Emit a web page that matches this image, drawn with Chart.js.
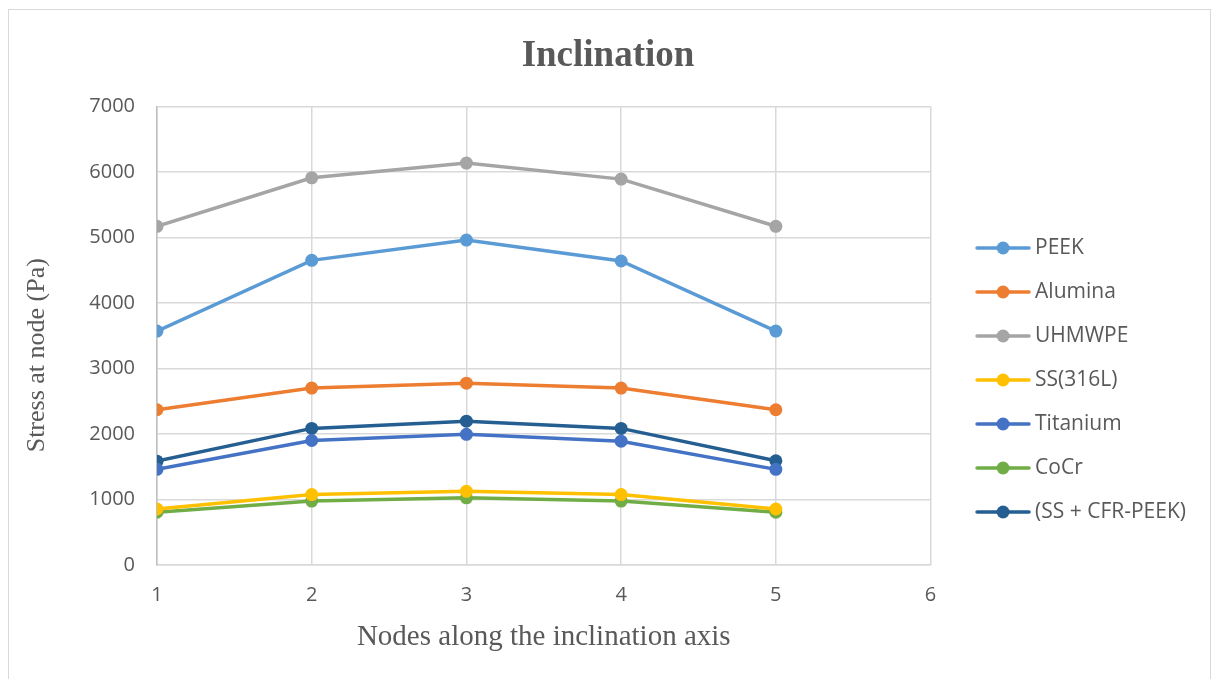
<!DOCTYPE html>
<html>
<head>
<meta charset="utf-8">
<script src="https://cdn.jsdelivr.net/npm/chart.js@4.4.1/dist/chart.umd.min.js"></script>
<style>
  html, body { margin: 0; padding: 0; background: #fff; }
  #wrap { position: relative; width: 1218px; height: 679px; }
  #frame { position: absolute; left: 8px; top: 9px; width: 1201px; height: 680px; border: 1px solid #d9d9d9; pointer-events: none; }
</style>
</head>
<body>
<div id="wrap">
  <canvas id="inclination" width="1218" height="679"></canvas>
  <div id="frame"></div>
</div>
<script>
const nodes = [1, 2, 3, 4, 5];
const peek = [3570, 4650, 4960, 4640, 3570];
const alumina = [2370, 2700, 2775, 2700, 2370];
const uhmwpe = [5170, 5910, 6135, 5890, 5170];
const ss316l = [855, 1075, 1125, 1075, 855];
const titanium = [1460, 1900, 1995, 1890, 1460];
const cocr = [805, 975, 1025, 975, 805];
const ssCfrPeek = [1585, 2085, 2195, 2085, 1590];

const seriesNames = ['PEEK', 'Alumina', 'UHMWPE', 'SS(316L)', 'Titanium', 'CoCr', '(SS + CFR-PEEK)'];
const seriesValues = [peek, alumina, uhmwpe, ss316l, titanium, cocr, ssCfrPeek];
const seriesColors = ['#5B9BD5', '#ED7D31', '#A5A5A5', '#FFC000', '#4472C4', '#70AD47', '#255E91'];

const textGrey = '#595959';
const gridGrey = '#d9d9d9';

// legend marker: short line with a dot in the middle, like the office chart
// (left part of the image is left empty to push the marker right)
function legendMarker(color) {
  const c = document.createElement('canvas');
  c.width = 84;
  c.height = 16;
  const ctx = c.getContext('2d');
  ctx.strokeStyle = color;
  ctx.lineWidth = 3.5;
  ctx.lineCap = 'round';
  ctx.beginPath();
  ctx.moveTo(30, 8);
  ctx.lineTo(82, 8);
  ctx.stroke();
  ctx.fillStyle = color;
  ctx.beginPath();
  ctx.arc(56, 8, 6.5, 0, Math.PI * 2);
  ctx.fill();
  return c;
}

const datasets = seriesNames.map((name, i) => ({
  label: name,
  data: nodes.map((n, j) => ({ x: n, y: seriesValues[i][j] })),
  borderColor: seriesColors[i],
  backgroundColor: seriesColors[i],
  borderWidth: 3.5,
  pointRadius: 6.5,
  pointHoverRadius: 6.5,
  pointBorderWidth: 0,
  tension: 0,
}));

new Chart(document.getElementById('inclination'), {
  type: 'line',
  data: { datasets: datasets },
  options: {
    responsive: false,
    animation: false,
    layout: { padding: { left: 20, right: 22, top: 0, bottom: 20 } },
    plugins: {
      title: {
        display: true,
        text: 'Inclination',
        color: textGrey,
        font: { family: 'Liberation Serif', size: 37, weight: 'bold' },
        padding: { top: 34, bottom: 28 },
      },
      legend: {
        position: 'right',
        title: {
          display: true,
          text: ' ',
          font: { size: 10 },
          padding: { top: 89, bottom: 0 },
        },
        labels: {
          color: textGrey,
          font: { family: 'Open Sans', size: 21 },
          usePointStyle: true,
          pointStyleWidth: 71,
          boxHeight: 16,
          padding: 23,
          generateLabels: function(chart) {
            return chart.data.datasets.map((ds, i) => ({
              text: ds.label,
              fillStyle: ds.borderColor,
              strokeStyle: ds.borderColor,
              lineWidth: 0,
              pointStyle: legendMarker(ds.borderColor),
              datasetIndex: i,
              hidden: false,
              fontColor: textGrey,
            }));
          }
        }
      },
      tooltip: { enabled: false }
    },
    scales: {
      x: {
        type: 'linear',
        min: 1,
        max: 6,
        ticks: {
          stepSize: 1,
          color: textGrey,
          font: { family: 'Open Sans', size: 20 },
          padding: 18,
        },
        grid: { color: gridGrey, lineWidth: 1.5, drawTicks: false },
        border: { color: gridGrey, width: 1.5 },
        title: {
          display: true,
          text: 'Nodes along the inclination axis',
          color: textGrey,
          font: { family: 'Liberation Serif', size: 29 },
          padding: { top: 10, bottom: 4 },
        },
        afterFit: function(scale) { scale.height = 94; }
      },
      y: {
        min: 0,
        max: 7000,
        ticks: {
          stepSize: 1000,
          color: textGrey,
          font: { family: 'Open Sans', size: 20 },
          padding: 22,
          callback: function(value) { return String(value); }
        },
        grid: { color: gridGrey, lineWidth: 1.5, drawTicks: false },
        border: { color: '#bfbfbf', width: 1.5 },
        title: {
          display: true,
          text: 'Stress at node (Pa)      ',
          color: textGrey,
          font: { family: 'Liberation Serif', size: 26 },
          padding: { top: 2, bottom: 4 },
        },
        afterFit: function(scale) { scale.width = 137; }
      }
    }
  }
});
</script>
</body>
</html>
